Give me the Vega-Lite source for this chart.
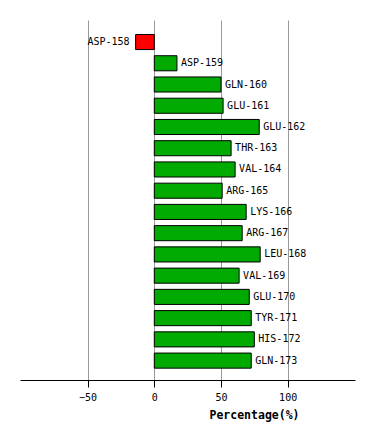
{
  "$schema": "https://vega.github.io/schema/vega-lite/v6.json",
  "width": 335,
  "height": 360,
  "autosize": {"type": "none"},
  "padding": {"left": 20, "top": 20, "right": 19, "bottom": 60},
  "background": "white",
  "data": {"values": [
    {"residue": "ASP-158", "pct": -14},
    {"residue": "ASP-159", "pct": 17},
    {"residue": "GLN-160", "pct": 50},
    {"residue": "GLU-161", "pct": 51.6},
    {"residue": "GLU-162", "pct": 78.7},
    {"residue": "THR-163", "pct": 57.6},
    {"residue": "VAL-164", "pct": 60.6},
    {"residue": "ARG-165", "pct": 50.9},
    {"residue": "LYS-166", "pct": 68.9},
    {"residue": "ARG-167", "pct": 65.9},
    {"residue": "LEU-168", "pct": 79.4},
    {"residue": "VAL-169", "pct": 63.6},
    {"residue": "GLU-170", "pct": 71.2},
    {"residue": "TYR-171", "pct": 72.7},
    {"residue": "HIS-172", "pct": 75},
    {"residue": "GLN-173", "pct": 72.7}
  ]},
  "config": {"view": {"stroke": null}},
  "encoding": {
    "y": {"field": "residue", "type": "nominal", "sort": null, "axis": null,
          "scale": {"paddingInner": 0.29, "paddingOuter": 0.62, "align": 0.55}},
    "x": {"field": "pct", "type": "quantitative",
          "scale": {"domain": [-100.7, 150.5], "nice": false, "zero": false},
          "axis": {"values": [-50, 0, 50, 100], "title": "Percentage(%)",
                   "grid": true, "gridColor": "#999999", "gridWidth": 1,
                   "domainColor": "#000000", "tickColor": "#000000", "tickSize": 7,
                   "labelFont": "DejaVu Sans Mono", "labelFontSize": 10, "labelColor": "#000000",
                   "labelPadding": 5,
                   "titleFont": "DejaVu Sans Mono", "titleFontSize": 11.5, "titleFontWeight": "bold",
                   "titleColor": "#000000", "titleX": 234, "titleY": 35,
                   "titleAlign": "center", "titleBaseline": "middle"}}
  },
  "layer": [
    {
      "mark": {"type": "bar", "stroke": "#000000", "strokeWidth": 1},
      "encoding": {
        "x2": {"datum": 0},
        "color": {
          "condition": {"test": "datum.pct < 0", "value": "#FF0000"},
          "value": "#00AA00"
        }
      }
    },
    {
      "transform": [{"filter": "datum.pct >= 0"}],
      "mark": {"type": "text", "align": "left", "baseline": "middle", "dx": 4,
               "font": "DejaVu Sans Mono", "fontSize": 10, "color": "#000000"},
      "encoding": {"text": {"field": "residue"}}
    },
    {
      "transform": [{"filter": "datum.pct < 0"}],
      "mark": {"type": "text", "align": "right", "baseline": "middle", "dx": -6,
               "font": "DejaVu Sans Mono", "fontSize": 10, "color": "#000000"},
      "encoding": {"text": {"field": "residue"}}
    }
  ]
}
